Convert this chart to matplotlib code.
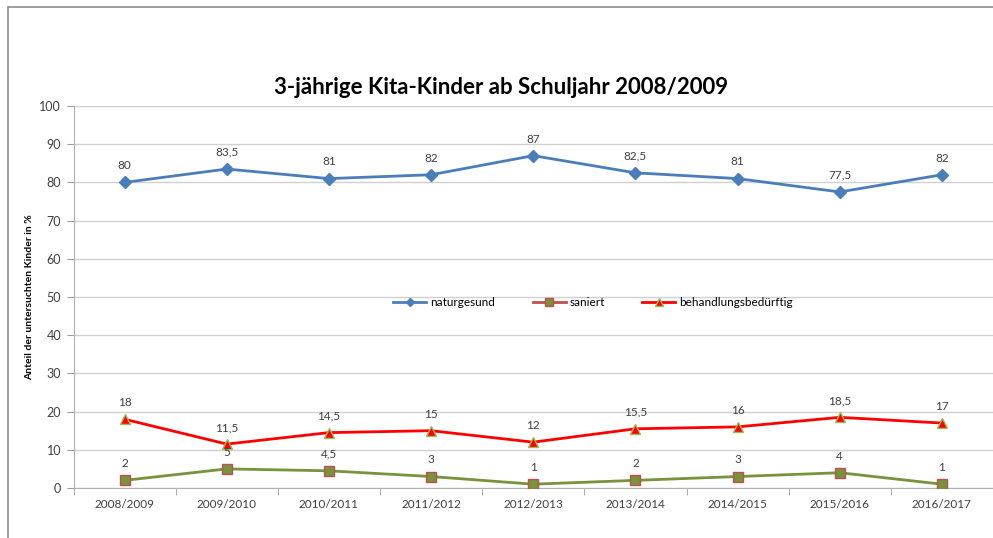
import matplotlib.pyplot as plt
from matplotlib.lines import Line2D
from matplotlib.patches import Rectangle

years = ['2008/2009', '2009/2010', '2010/2011', '2011/2012', '2012/2013',
         '2013/2014', '2014/2015', '2015/2016', '2016/2017']
naturgesund = [80, 83.5, 81, 82, 87, 82.5, 81, 77.5, 82]
saniert = [2, 5, 4.5, 3, 1, 2, 3, 4, 1]
behandlung = [18, 11.5, 14.5, 15, 12, 15.5, 16, 18.5, 17]

plt.rcParams['font.family'] = ['Lato', 'DejaVu Sans']

fig = plt.figure(figsize=(9.93, 5.38), dpi=100)
fig.patches.append(Rectangle((8 / 993, -0.1), 1.1, 1 - 7 / 538 + 0.1,
                             transform=fig.transFigure, fill=False,
                             edgecolor='#8c8c8c', linewidth=1.2))
ax = fig.add_axes([73.5 / 993, 1 - 488 / 538, 1 - 73.5 / 993, (488 - 106) / 538])

x = list(range(len(years)))
blue = '#4a7ebb'
green = '#77933c'
red = '#ff0000'
redbrown = '#c0504d'
yellowgreen = '#9bbb59'

ax.plot(x, naturgesund, color=blue, lw=2, marker='D', ms=6,
        mfc=blue, mec=blue, zorder=3)
ax.plot(x, saniert, color=green, lw=2, marker='s', ms=6.5,
        mfc=green, mec=redbrown, mew=1, zorder=3)
ax.plot(x, behandlung, color=red, lw=2, marker='^', ms=7,
        mfc=red, mec=yellowgreen, mew=1, zorder=3)

def fmt(v):
    s = f'{v:g}'
    return s.replace('.', ',')

for series in (naturgesund, saniert, behandlung):
    for i, v in enumerate(series):
        ax.annotate(fmt(v), (i, v), xytext=(0, 8), textcoords='offset points',
                    ha='center', va='bottom', fontsize=8.5, color='#404040',
                    zorder=4)

ax.set_ylim(0, 100)
ax.set_xlim(-0.5, 8.47)
ax.set_yticks(range(0, 101, 10))
ax.set_xticks(x)
ax.set_xticklabels(years)
ax.set_xticks([i + 0.5 for i in range(-1, 9)], minor=True)
ax.tick_params(axis='x', which='major', length=0, pad=8, labelsize=8.5, labelcolor='#404040')
ax.tick_params(axis='x', which='minor', length=5, color='#a0a0a0', direction='out')
ax.tick_params(axis='y', length=5, color='#a0a0a0', labelsize=9, labelcolor='#404040', pad=4)
ax.grid(axis='y', color='#d0d0d0', lw=1)
ax.set_axisbelow(True)
for side in ('top', 'right'):
    ax.spines[side].set_visible(False)
for side in ('left', 'bottom'):
    ax.spines[side].set_color('#b0b0b0')

ax.set_ylabel('Anteil der untersuchten Kinder in %', fontsize=7.5,
              fontweight='bold', labelpad=4)
fig.text(501 / 993, 1 - 88 / 538, '3-jährige Kita-Kinder ab Schuljahr 2008/2009',
         ha='center', va='center', fontsize=16, fontweight='bold')

handles = [
    Line2D([], [], color=blue, lw=2, marker='D', ms=4, mfc=blue, mec=blue),
    Line2D([], [], color=redbrown, lw=2, marker='s', ms=6, mfc=green, mec=redbrown),
    Line2D([], [], color=red, lw=2, marker='^', ms=6, mfc=red, mec=yellowgreen),
]
ax.legend(handles, ['naturgesund', 'saniert', 'behandlungsbedürftig'],
          ncol=3, frameon=False, fontsize=8.5, loc='center',
          bbox_to_anchor=(0.565, 0.485), handlelength=2.8, columnspacing=3.2,
          handletextpad=0.3)

fig.savefig('out.png', dpi=100)
